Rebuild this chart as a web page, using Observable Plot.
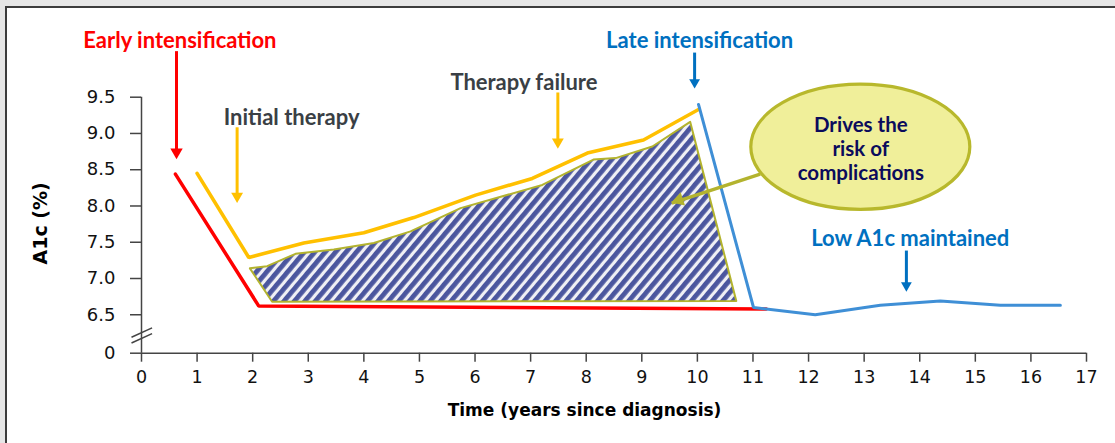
<!DOCTYPE html>
<html><head><meta charset="utf-8">
<script src="https://cdn.jsdelivr.net/npm/d3@7"></script>
<script src="https://cdn.jsdelivr.net/npm/@observablehq/plot@0.6"></script>
<style>
html,body{margin:0;padding:0;background:#e6e6e6;}
#wrap{position:relative;width:1115px;height:443px;overflow:hidden;background:#e6e6e6;}
#panel{position:absolute;left:5px;top:6px;right:-4px;bottom:-4px;background:#fff;border-left:2px solid #3c3c3c;border-top:2px solid #3c3c3c;}
#chart{position:absolute;left:0;top:0;}
</style></head>
<body><div id="wrap"><div id="panel"></div><div id="chart"></div></div>
<script>
// ---- axis ticks ----
const xTickValues = [0,1,2,3,4,5,6,7,8,9,10,11,12,13,14,15,16,17];
const yZero = 5.97;               // where the broken axis shows "0"
const yTickValues = [yZero, 6.5, 7.0, 7.5, 8.0, 8.5, 9.0, 9.5];
const yTop = 9.5;
const xMax = 17;

// ---- series ----
const redX = [0.61, 2.11, 11.24];
const redY = [8.44, 6.62, 6.58];
const yellowX = [1.00, 1.93, 2.92, 4.00, 4.90, 6.01, 7.03, 8.02, 9.03, 10.02];
const yellowY = [8.45, 7.29, 7.49, 7.63, 7.84, 8.15, 8.38, 8.73, 8.91, 9.33];
const blueX = [10.02, 11.01, 12.12, 13.29, 14.37, 15.45, 16.53];
const blueY = [9.40, 6.60, 6.50, 6.63, 6.69, 6.63, 6.63];
const hatchX = [1.95, 2.26, 2.77, 3.46, 4.18, 4.84, 5.74, 7.21, 8.13, 8.53, 9.19, 9.87, 10.70, 2.35, 1.95];
const hatchY = [7.14, 7.17, 7.34, 7.40, 7.49, 7.65, 7.97, 8.29, 8.64, 8.66, 8.82, 9.16, 6.69, 6.68, 7.14];

// ---- annotations ----
const labelText = ["Early intensification", "Initial therapy", "Therapy failure", "Late intensification", "Low A1c maintained"];
const labelX = [0.69, 2.70, 6.88, 10.04, 13.83];
const labelY = [10.27, 9.21, 9.70, 10.27, 7.54];
const labelColor = ["#ff0000", "#3a3f45", "#3a3f45", "#0070c0", "#0070c0"];

const arrowX = [0.63, 1.72, 7.49, 9.95, 13.76];
const arrowY1 = [10.08, 9.03, 9.51, 10.06, 7.33];
const arrowY2 = [8.65, 8.04, 8.79, 9.61, 6.81];
const arrowColor = ["#ff0000", "#ffc000", "#ffc000", "#0070c0", "#0070c0"];
const arrowHead = [4.6, 4.4, 4.4, 4.0, 4.0];

const calloutFrom = [11.13, 8.44];
const calloutTo = [9.54, 8.04];
const ellipseCenter = [12.94, 8.81];
const ellipseRadii = [1.97, 0.863];
const ellipseLines = ["Drives the", "risk of", "complications"];
const ellipseLineY = [9.11, 8.78, 8.45];

const breakMarks = [
  {x1: -0.18, y1: 6.19, x2: 0.19, y2: 6.32},
  {x1: -0.18, y1: 6.11, x2: 0.19, y2: 6.24}
];
const xTitle = "Time (years since diagnosis)";
const yTitle = "A1c (%)";

// ---- tables ----
const toPts = (xs, ys) => xs.map((x, i) => ({x, y: ys[i]}));
const red = toPts(redX, redY);
const yellow = toPts(yellowX, yellowY);
const blue = toPts(blueX, blueY);
const hatch = toPts(hatchX, hatchY);
const labels = labelText.map((t, i) => ({t, x: labelX[i], y: labelY[i], c: labelColor[i]}));
const arrows = arrowX.map((x, i) => ({x, y1: arrowY1[i], y2: arrowY2[i], c: arrowColor[i], r: arrowHead[i]}));
const ellipseTexts = ellipseLines.map((t, i) => ({t, x: ellipseCenter[0], y: ellipseLineY[i]}));
const callout = [{x1: calloutFrom[0], y1: calloutFrom[1], x2: calloutTo[0], y2: calloutTo[1]}];

const annFont = "Lato, 'Open Sans', sans-serif";

// triangle tip offset (d3.symbolTriangle: tip sits 2*sqrt(size/(3*sqrt3)) from its centre)
const tipOffset = r => 2 * Math.sqrt(Math.PI * r * r / (3 * Math.sqrt(3)));

const ellipseMark = Plot.dot([{x: ellipseCenter[0], y: ellipseCenter[1]}], {
  x: "x", y: "y",
  render(index, scales, values) {
    const cx = values.x[0], cy = values.y[0];
    const rx = Math.abs(scales.x(ellipseCenter[0] + ellipseRadii[0]) - scales.x(ellipseCenter[0]));
    const ry = Math.abs(scales.y(ellipseCenter[1] + ellipseRadii[1]) - scales.y(ellipseCenter[1]));
    const g = d3.create("svg:g");
    g.append("ellipse").attr("cx", cx).attr("cy", cy).attr("rx", rx).attr("ry", ry)
      .attr("fill", "#f0ef9a").attr("stroke", "#b8b82c").attr("stroke-width", 3.2);
    return g.node();
  }
});

// callout arrow head, rotated along the pointer direction
const calloutHead = Plot.dot(callout, {
  x: "x2", y: "y2",
  render(index, scales, values) {
    const d = callout[0];
    const X1 = scales.x(d.x1), Y1 = scales.y(d.y1), X2 = scales.x(d.x2), Y2 = scales.y(d.y2);
    const ang = Math.atan2(Y2 - Y1, X2 - X1);
    const deg = ang * 180 / Math.PI + 90;
    const r = 5.2, off = tipOffset(r);
    const cx = X2 - off * Math.cos(ang), cy = Y2 - off * Math.sin(ang);
    const g = d3.create("svg:g");
    g.append("path").attr("d", d3.symbol(d3.symbolTriangle, Math.PI * r * r)())
      .attr("transform", `translate(${cx},${cy}) rotate(${deg})`).attr("fill", "#b3b32e");
    return g.node();
  }
});

const chart = Plot.plot({
  width: 1115,
  height: 443,
  marginLeft: 141,
  marginRight: 29,
  marginTop: 96.7,
  marginBottom: 90.3,
  x: {domain: [0, xMax]},
  y: {domain: [yZero, yTop]},
  r: {type: "identity"},
  style: {fontFamily: "'DejaVu Sans', Verdana, sans-serif", fontSize: "17px", background: "transparent", overflow: "visible", color: "#1a1a1a"},
  marks: [
    // hatched area
    Plot.line(hatch, {x: "x", y: "y", fill: "url(#hatchPattern)", stroke: "#b3b32e", strokeWidth: 2, strokeLinejoin: "round"}),
    // axis lines
    Plot.ruleX([0], {y1: yZero, y2: yTop, stroke: "#444", strokeWidth: 1.5}),
    Plot.ruleY([yZero], {x1: 0, x2: xMax, stroke: "#444", strokeWidth: 1.5}),
    Plot.link(breakMarks, {x1: "x1", y1: "y1", x2: "x2", y2: "y2", stroke: "#444", strokeWidth: 1.5}),
    Plot.axisX({ticks: xTickValues, tickSize: 9, tickPadding: 8, tickFormat: d => String(d), stroke: "#444", strokeWidth: 1.5, fill: "#111", fontSize: 17.5, label: null}),
    Plot.axisY({ticks: yTickValues, tickSize: 11, tickPadding: 15, tickFormat: d => d < 6 ? "0" : d.toFixed(1), stroke: "#444", strokeWidth: 1.5, fill: "#111", fontSize: 18, label: null}),
    // series lines
    Plot.line(red, {x: "x", y: "y", stroke: "#ff0000", strokeWidth: 3.5, strokeLinejoin: "miter"}),
    Plot.line(yellow, {x: "x", y: "y", stroke: "#ffc000", strokeWidth: 3.6, strokeLinejoin: "miter"}),
    Plot.line(blue, {x: "x", y: "y", stroke: "#3f8fd6", strokeWidth: 3, strokeLinejoin: "miter"}),
    // annotation arrows: shaft + filled head
    Plot.link(arrows, {x1: "x", x2: "x", y1: "y1", y2: "y2", stroke: "c", strokeWidth: 3, dy: -4}),
    Plot.dot(arrows, {x: "x", y: "y2", r: "r", symbol: "triangle", rotate: 180, fill: "c", stroke: null,
      dy: -tipOffset(4.4)}),
    Plot.link(callout, {x1: "x1", y1: "y1", x2: "x2", y2: "y2", stroke: "#b3b32e", strokeWidth: 3.4}),
    calloutHead,
    ellipseMark,
    Plot.text(ellipseTexts, {x: "x", y: "y", text: "t", fill: "#0b0b5c", fontFamily: annFont, fontWeight: "bold", fontSize: 20.5}),
    Plot.text(labels, {x: "x", y: "y", text: "t", fill: "c", fontFamily: annFont, fontWeight: "bold", fontSize: 22}),
    // axis titles
    Plot.text([xTitle], {x: () => 7.97, frameAnchor: "bottom", lineAnchor: "middle", textAnchor: "middle", dy: 57, fontWeight: "bold", fontSize: 17, fill: "#000"}),
    Plot.text([yTitle], {y: () => 7.76, frameAnchor: "left", textAnchor: "middle", lineAnchor: "middle", dx: -101, rotate: -90, fontWeight: "bold", fontSize: 19, fill: "#000"})
  ]
});

// stripe pattern for the hatched area
const svg = d3.select(chart);
const defs = svg.insert("defs", ":first-child");
const pat = defs.append("pattern").attr("id", "hatchPattern").attr("patternUnits", "userSpaceOnUse")
  .attr("width", 8).attr("height", 8).attr("patternTransform", "rotate(40)");
pat.append("rect").attr("width", 8).attr("height", 8).attr("fill", "#f0f0f5");
pat.append("rect").attr("x", 0).attr("width", 4.8).attr("height", 8).attr("fill", "#4b569e");

document.getElementById("chart").appendChild(chart);
</script>
</body></html>
